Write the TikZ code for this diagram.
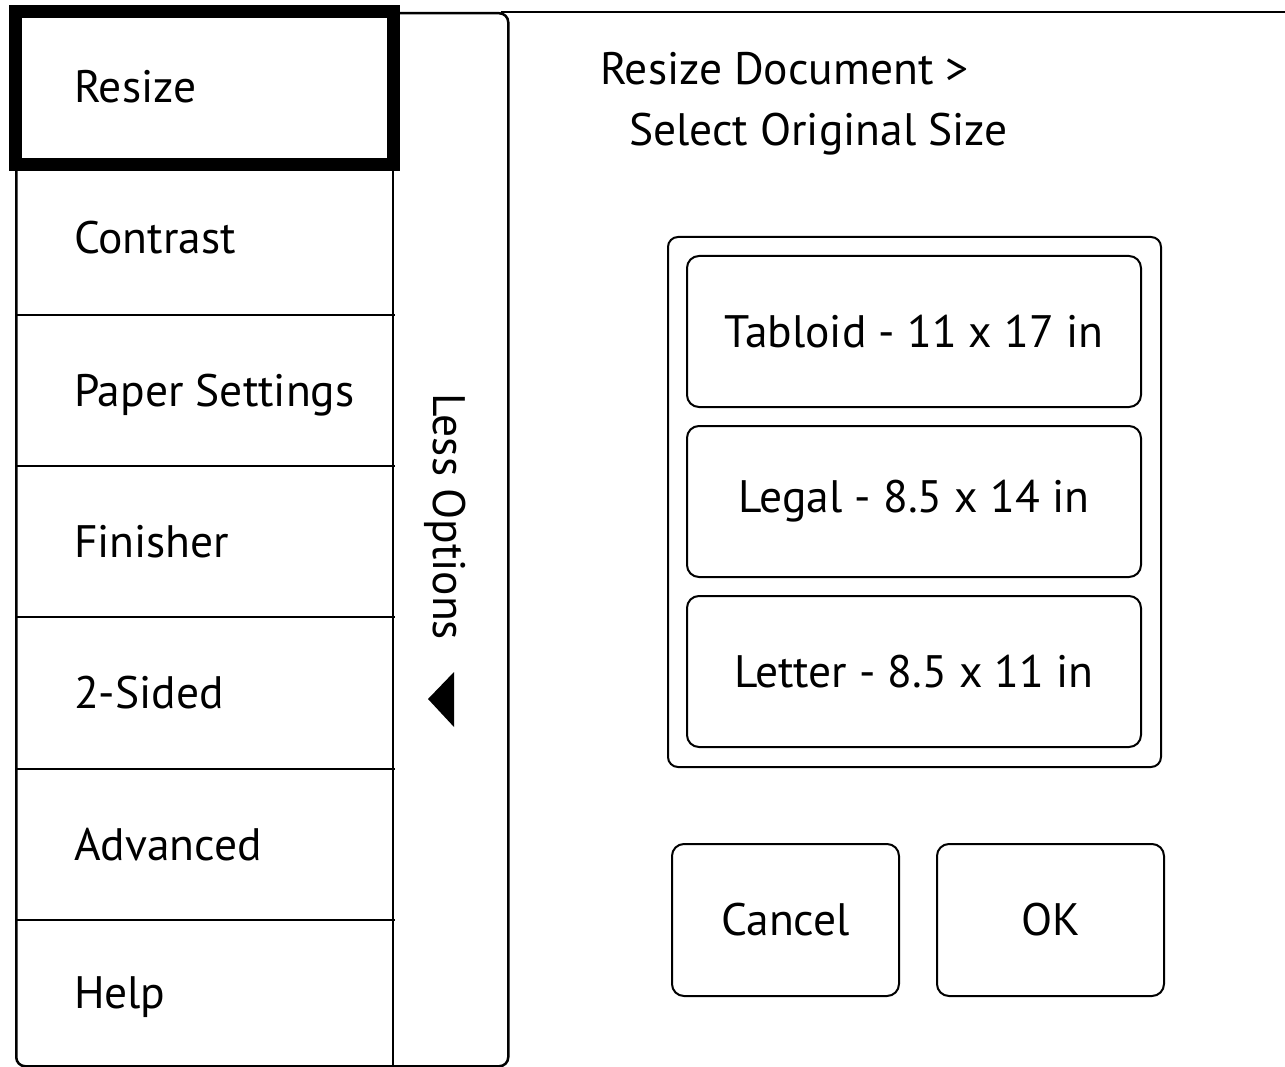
\documentclass[tikz,border=0pt]{standalone}
\usepackage{fontspec}
\setmainfont{PT Sans}
\begin{document}
\begin{tikzpicture}[x=1pt,y=-1pt,line width=2pt,
  font=\fontsize{45.5}{52}\selectfont,
  cell/.style={rectangle,inner sep=0pt,minimum width=378pt,minimum height=151pt,anchor=north west},
  item/.style={anchor=base west,inner sep=0pt},
  btn/.style={draw,rectangle,rounded corners=12pt,inner sep=0pt,line width=2pt},
  heading/.style={anchor=base west,inner sep=0pt}]
\useasboundingbox (0,0) rectangle (1285,1067);

% side panel with the menu column
\node[draw,rectangle,rounded corners=9pt,line width=2.5pt,inner sep=0pt,
      minimum width=492pt,minimum height=1053pt,anchor=north west] (panel) at (15,12) {};
\coordinate (edge) at (1285,12);
\draw[line width=2.5pt] ([xshift=-9pt]panel.north east) -- (edge);

% menu cells
\node[cell] (c1) at (15,12)  {};
\node[cell,minimum height=153pt] (c2) at (15,162) {};
\node[cell] (c3) at (15,315) {};
\node[cell] (c4) at (15,466) {};
\node[cell,minimum height=152pt] (c5) at (15,617) {};
\node[cell] (c6) at (15,769) {};
\node[cell,minimum height=145pt] (c7) at (15,920) {};

\coordinate (dtop) at (393,12);
\coordinate (dbot) at (393,1065);
\draw (dtop) -- (dbot);
\foreach \c in {c2,c3,c4,c5,c6,c7}
  \draw (\c.north west) -- (\c.north east);

\node[item] (t1) at (73,103)    {Resize};
\node[item] (t2) at (73,254)    {Contrast};
\node[item] (t3) at (73,406)    {Paper Settings};
\node[item] (t4) at (73,557)    {Finisher};
\node[item] (t5) at (73,708.5)  {2-Sided};
\node[item] (t6) at (73,860)    {Advanced};
\node[item] (t7) at (73,1008)   {Help};

% current selection
\draw[line width=13pt] (c1.north west) rectangle (c1.south west -| dtop);

% collapse tab
\node[rotate=-90,inner sep=0pt] (less) at (445,517) {Less Options};
\coordinate (tipL) at (428,699);
\coordinate (tipT) at (454,672);
\coordinate (tipB) at (454,727);
\fill (tipL) -- (tipT) -- (tipB) -- cycle;

% dialog heading
\node[heading] (h1) at (599,85)  {Resize Document >};
\node[heading] (h2) at (628,146) {Select Original Size};

% size choices
\node[draw,rectangle,rounded corners=10pt,inner sep=0pt,
      minimum width=493pt,minimum height=530pt] (group) at (914.5,502) {};
\node[btn,minimum width=454pt,minimum height=151pt] (tabloid) at (914,331.5) {Tabloid - 11 x 17 in};
\node[btn,minimum width=454pt,minimum height=151pt] (legal)   at (914,501.5) {Legal - 8.5 x 14 in};
\node[btn,minimum width=454pt,minimum height=151pt] (letter)  at (914,671.5) {Letter - 8.5 x 11 in};

% actions
\node[btn,minimum width=227pt,minimum height=152pt] (cancel) at (785.5,920) {Cancel};
\node[btn,minimum width=227pt,minimum height=152pt] (ok)     at (1050.5,920) {OK};
\end{tikzpicture}
\end{document}
